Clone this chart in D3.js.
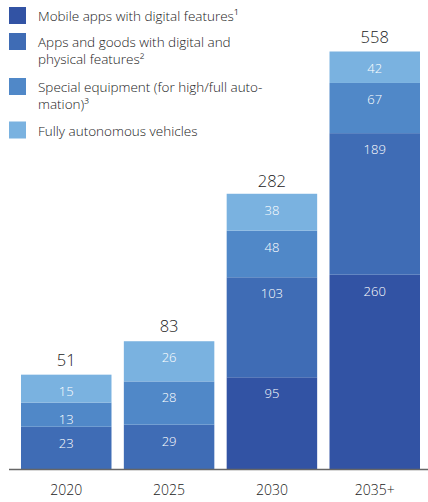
<!DOCTYPE html>
<html>
<head>
<meta charset="utf-8">
<script src="https://cdn.jsdelivr.net/npm/d3@7"></script>
<style>
  body { margin: 0; background: #fff; }
  text { font-family: "Open Sans", sans-serif; font-weight: 300; }
</style>
</head>
<body>
<div id="chart"></div>
<script>
var years = ["2020", "2025", "2030", "2035+"];
var seriesNames = ["Mobile apps with digital features¹",
                   "Apps and goods with digital and physical features²",
                   "Special equipment (for high/full automation)³",
                   "Fully autonomous vehicles"];
// legend labels broken the way the source prints them
var legendLines = [["Mobile apps with digital features¹"],
                   ["Apps and goods with digital and", "physical features²"],
                   ["Special equipment (for high/full auto-", "mation)³"],
                   ["Fully autonomous vehicles"]];
var mobileApps = [0, 0, 95, 260];
var appsGoods = [23, 29, 103, 189];
var specialEquip = [13, 28, 48, 67];
var autonomous = [15, 26, 38, 42];
var totals = [51, 83, 282, 558];

var colors = ["#3253a4", "#3f6cb5", "#5088c8", "#7ab2e0"];

var svgWidth = 428;
var svgHeight = 502;
var baseline = 469.5;

var svg = d3.select("#chart")
  .append("svg")
  .attr("width", svgWidth)
  .attr("height", svgHeight);

// table for the stack
var rows = years.map(function(y, i) {
  return { year: y, s0: mobileApps[i], s1: appsGoods[i], s2: specialEquip[i], s3: autonomous[i], total: totals[i] };
});
var keys = ["s0", "s1", "s2", "s3"];

var x = d3.scaleBand()
  .domain(years)
  .range([21, 420])
  .paddingInner(0.12)
  .paddingOuter(0);

// the source draws bars not to scale; a power scale approximates their heights
var hScale = d3.scalePow()
  .exponent(0.62)
  .domain([0, d3.max(totals)])
  .range([0, 418]);

var stack = d3.stack().keys(keys)(rows);

// each bar gets its own linear scale from 0..total onto its drawn height
function yFor(d) {
  return d3.scaleLinear()
    .domain([0, d.total])
    .range([baseline, baseline - hScale(d.total)]);
}

var layers = svg.selectAll("g.layer")
  .data(stack)
  .enter()
  .append("g")
  .attr("class", "layer")
  .attr("fill", function(d, i) { return colors[i]; });

layers.selectAll("rect")
  .data(function(d) { return d.filter(function(p) { return p[1] > p[0]; }); })
  .enter()
  .append("rect")
  .attr("x", function(p) { return x(p.data.year); })
  .attr("width", x.bandwidth())
  .attr("y", function(p) { return yFor(p.data)(p[1]); })
  .attr("height", function(p) { var y = yFor(p.data); return y(p[0]) - y(p[1]); });

// value labels inside segments
layers.selectAll("text")
  .data(function(d) { return d.filter(function(p) { return p[1] > p[0]; }); })
  .enter()
  .append("text")
  .attr("x", function(p) { return x(p.data.year) + x.bandwidth() / 2; })
  .attr("y", function(p) { return yFor(p.data)(p[1]) + 21; })
  .attr("text-anchor", "middle")
  .attr("fill", "#fff")
  .attr("font-size", "13px")
  .text(function(p) { return p[1] - p[0]; });

// totals above bars
svg.selectAll("text.total")
  .data(rows)
  .enter()
  .append("text")
  .attr("class", "total")
  .attr("x", function(d) { return x(d.year) + x.bandwidth() / 2; })
  .attr("y", function(d) { return yFor(d)(d.total) - 9; })
  .attr("text-anchor", "middle")
  .attr("fill", "#222")
  .attr("font-size", "16.5px")
  .text(function(d) { return d.total; });

// baseline
svg.append("line")
  .attr("x1", 9)
  .attr("x2", 428)
  .attr("y1", baseline)
  .attr("y2", baseline)
  .attr("stroke", "#666")
  .attr("stroke-width", 1.5);

var xAxis = svg.append("g")
  .attr("transform", "translate(0," + baseline + ")")
  .call(d3.axisBottom(x).tickSize(0).tickPadding(16));
xAxis.select(".domain").remove();
xAxis.selectAll("text")
  .attr("font-family", "Open Sans, sans-serif")
  .attr("font-weight", 300)
  .attr("font-size", "14px")
  .attr("fill", "#222");

// legend
var legendTop = [7, 33, 78, 121.5];
var legend = svg.selectAll("g.legend")
  .data(seriesNames)
  .enter()
  .append("g")
  .attr("class", "legend")
  .attr("transform", function(d, i) { return "translate(9," + legendTop[i] + ")"; });

legend.append("rect")
  .attr("width", 17)
  .attr("height", 17)
  .attr("fill", function(d, i) { return colors[i]; });

legend.append("text")
  .attr("x", 29)
  .attr("y", 14)
  .attr("font-size", "13.5px")
  .attr("fill", "#222")
  .selectAll("tspan")
  .data(function(d, i) { return legendLines[i]; })
  .enter()
  .append("tspan")
  .attr("x", 29)
  .attr("dy", function(d, j) { return j === 0 ? 0 : 16.6; })
  .text(function(d) { return d; });
</script>
</body>
</html>
